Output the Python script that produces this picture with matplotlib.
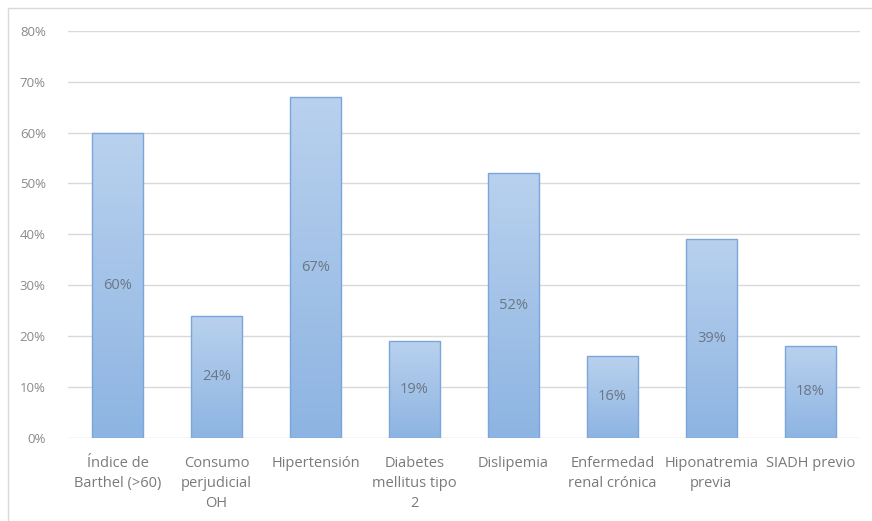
import numpy as np
import matplotlib.pyplot as plt
from matplotlib.colors import LinearSegmentedColormap
from matplotlib.patches import Rectangle

categories = ["Índice de\nBarthel (>60)", "Consumo\nperjudicial\nOH", "Hipertensión",
              "Diabetes\nmellitus tipo\n2", "Dislipemia", "Enfermedad\nrenal crónica",
              "Hiponatremia\nprevia", "SIADH previo"]
values = [60, 24, 67, 19, 52, 16, 39, 18]
yticks = [0, 10, 20, 30, 40, 50, 60, 70, 80]

plt.rcParams['font.family'] = ['Open Sans', 'DejaVu Sans']

fig = plt.figure(figsize=(8.72, 5.21), dpi=100)
ax = fig.add_axes([0.078, 0.160, 0.908, 0.7805])

# outer chart frame (only top/left visible)
fig.patches.append(Rectangle((8 / 872, -0.1), 1.2, 1.1 - 8 / 521,
                             transform=fig.transFigure, fill=False,
                             edgecolor='#d9d9d9', linewidth=1.0))

x = np.arange(len(values))
bars = ax.bar(x, values, width=0.52, color='none', edgecolor='#7aa6da',
              linewidth=1.0, zorder=3)

cmap = LinearSegmentedColormap.from_list('blu', ['#8db4e2', '#b9d1ee'])
grad = np.linspace(0, 1, 256).reshape(-1, 1)
for b in bars:
    x0, y0 = b.get_x(), b.get_y()
    w, h = b.get_width(), b.get_height()
    im = ax.imshow(grad, cmap=cmap, origin='lower', aspect='auto',
                   extent=(x0, x0 + w, y0, y0 + h), zorder=2)
    im.set_clip_path(b)

for xi, v in zip(x, values):
    ax.text(xi, v / 2, f"{v}%", ha='center', va='center', fontsize=10.5,
            color='#6a7784', zorder=4)

ax.set_xlim(-0.5, len(values) - 0.5)
ax.set_ylim(0, 80)
ax.set_yticks(yticks)
ax.set_yticklabels([f"{t}%" for t in yticks], fontsize=9.5, color='#8a8a8a')
ax.set_xticks(x)
ax.set_xticklabels(categories, fontsize=10.5, color='#7a7a7a', linespacing=1.45,
                   va='top')
ax.tick_params(axis='both', length=0)
ax.tick_params(axis='y', pad=16)
ax.tick_params(axis='x', pad=13)
ax.grid(axis='y', color='#d9d9d9', linewidth=1.0, zorder=0)
ax.set_axisbelow(True)
for s in ax.spines.values():
    s.set_visible(False)

fig.savefig('out.png', dpi=100)
